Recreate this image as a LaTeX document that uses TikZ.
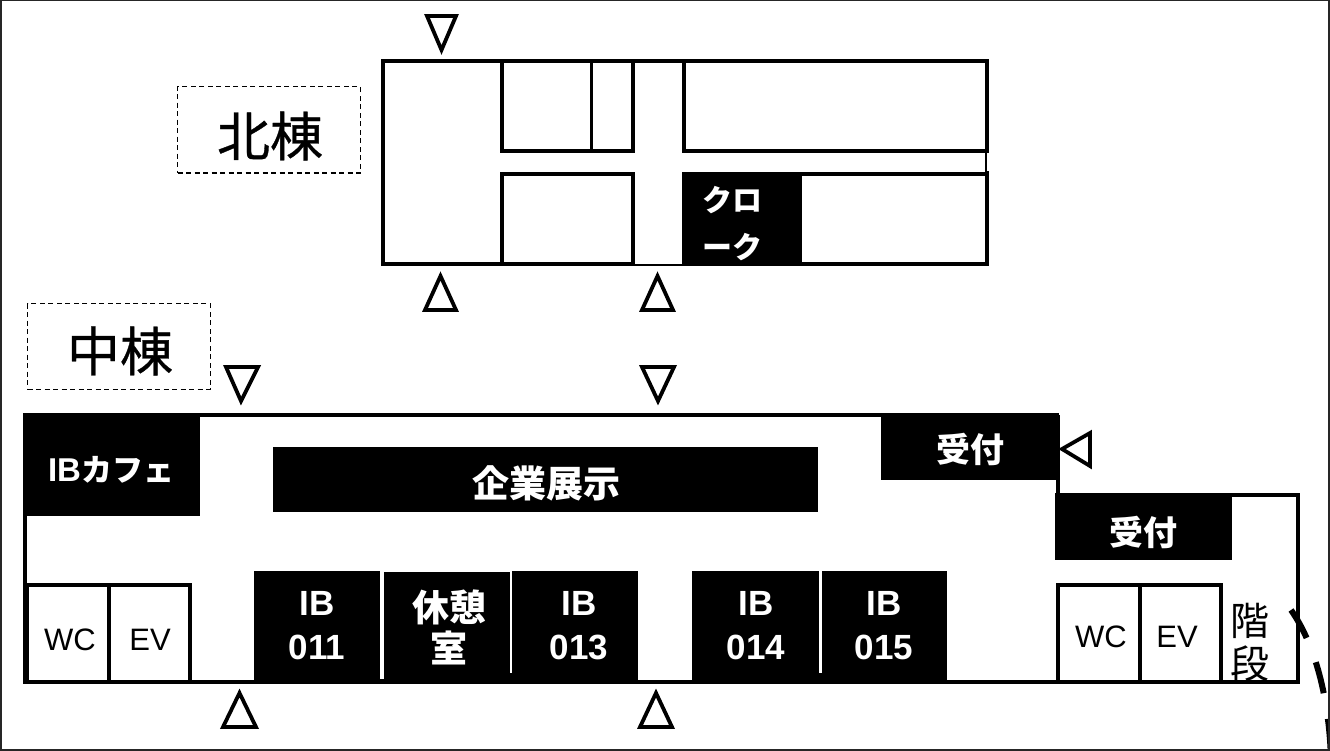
\documentclass[tikz,border=0pt]{standalone}
\usepackage{fontspec}
\setmainfont{Liberation Sans}
\newfontfamily\cjk{Noto Sans CJK JP}
\newfontfamily\cjkm[FakeBold=0.6]{Noto Sans CJK JP}
\usetikzlibrary{calc}
\tikzset{
  wall/.style={draw=black,line width=4.2pt,fill=white,line join=miter},
  thinwall/.style={draw=black,line width=3.6pt},
  blk/.style={fill=black,draw=none},
  tri/.style={draw=black,line width=3.8pt,fill=white,line join=miter},
  wlabel/.style={text=white,font=\fontsize{35}{44}\selectfont\bfseries,align=center,inner sep=0pt},
  jlabel/.style={text=white,font=\cjk\fontsize{37}{41}\selectfont\bfseries,align=center,inner sep=0pt},
  dark/.style={text=black,font=\fontsize{31}{34}\selectfont,inner sep=0pt},
  bldg/.style={text=black,font=\cjkm\fontsize{53}{56}\selectfont,inner sep=0pt},
  dashbox/.style={draw=black,line width=1.3pt,dash pattern=on 5pt off 3.5pt},
}
\begin{document}
\begin{tikzpicture}[x=1pt,y=-1pt]
\useasboundingbox (0,0) rectangle (1330,751);
\fill[white] (0,0) rectangle (1330,751);
% North building
\draw[wall] (383,61) rectangle (987,264);
\draw[thinwall] (502,61) rectangle (633,151);
\draw[thinwall,line width=3pt] (591,61) -- (591,151);
\draw[thinwall] (684,61) rectangle (987,151);
\draw[thinwall] (502,174) rectangle (633,264);
\draw[thinwall] (684,174) rectangle (987,264);
\draw[white,line width=4.4pt] (635,264) -- (682,264);
\draw[black,line width=2pt] (633,265) -- (684,265);
\draw[white,line width=4.4pt] (987,153.5) -- (987,171.5);
\draw[black,line width=2pt] (986,153) -- (986,172);
\fill[blk] (683,172) rectangle (802,266);
\node[jlabel,anchor=north west,align=left,font=\cjk\fontsize{30}{47}\selectfont\bfseries] (clk) at (702,186) {クロ\\ーク};
% North triangles
\draw[tri] (427,16) -- (456,16) -- (441.5,50) -- cycle;
\draw[tri] (425,310) -- (456,310) -- (440.5,276) -- cycle;
\draw[tri] (642,310) -- (673,310) -- (657.5,276) -- cycle;
% Building labels
\node[dashbox,minimum width=182.5pt,minimum height=86.5pt,anchor=north west] (northbox) at (177,86) {};
\node[bldg] (northlab) at (270,136) {北棟};
\node[dashbox,minimum width=182.5pt,minimum height=85.5pt,anchor=north west] (midbox) at (27,303) {};
\node[bldg] (midlab) at (120,351) {中棟};
% Stairs label sits under the wall line
\node[inner sep=0pt,align=center,font=\cjk\fontsize{39}{43}\selectfont] (stairs) at (1250,642) {階\\段};
% Middle building walls
\draw[black,line width=3.8pt,line join=miter] (1058,415) -- (25,415) -- (25,682) -- (1298,682) -- (1298,495) -- (1058,495) -- (1058,415);
% Black rooms
\fill[blk] (23,413) rectangle (200,516);
\fill[blk] (273,447) rectangle (818,512);
\fill[blk] (881,413) rectangle (1059,480);
\fill[blk] (1055,493) rectangle (1232,560);
\fill[blk] (254,571) rectangle (380,684);
\fill[blk] (380,679) rectangle (384,684);
\fill[blk] (384,572) rectangle (510,684);
\fill[blk] (510,673) rectangle (512,684);
\fill[blk] (512,571) rectangle (638,684);
\fill[blk] (692,571) rectangle (819,684);
\fill[blk] (819,673) rectangle (822,684);
\fill[blk] (822,571) rectangle (947,684);
% Service rooms
\draw[thinwall] (27,585) rectangle (190,682);
\draw[thinwall] (109,585) -- (109,682);
\draw[thinwall] (1058,585) rectangle (1221,682);
\draw[thinwall] (1140,585) -- (1140,682);
% Labels
\node[wlabel,anchor=center,font=\fontsize{33}{37}\selectfont\bfseries] (cafe) at (111,470) {IB{\cjk\fontsize{31}{37}\selectfont カフェ}};
\node[jlabel] (expo) at (546,483) {企業展示};
\node[jlabel,font=\cjk\fontsize{34}{37}\selectfont\bfseries] (rc1) at (970,449) {受付};
\node[jlabel,font=\cjk\fontsize{34}{37}\selectfont\bfseries] (rc2) at (1143,532) {受付};
\node[wlabel] (r11) at (317,626) {IB\\011};
\node[jlabel] (rest) at (449,627) {休憩\\室};
\node[wlabel] (r13) at (579,626) {IB\\013};
\node[wlabel] (r14) at (756,626) {IB\\014};
\node[wlabel] (r15) at (884,626) {IB\\015};
\node[dark] (wc1) at (70,640) {WC};
\node[dark] (ev1) at (150,640) {EV};
\node[dark] (wc2) at (1101,637) {WC};
\node[dark] (ev2) at (1177,637) {EV};
% Middle triangles
\draw[tri] (226,367) -- (258,367) -- (241,401) -- cycle;
\draw[tri] (642,367) -- (674,367) -- (658,401) -- cycle;
\draw[tri] (223,727) -- (256,727) -- (239.5,693) -- cycle;
\draw[tri] (640,727) -- (672,727) -- (656,693) -- cycle;
\draw[tri] (1062,449) -- (1090,433) -- (1090,466) -- cycle;
% Stair swing
\begin{scope}
\clip (0,0) rectangle (1330,751);
\draw[black,line width=6pt,dash pattern=on 32pt off 26pt] (1291,610) .. controls (1312,640) and (1329,690) .. (1331,760);
\end{scope}
% Border
\draw[black!85,line width=2pt] (1,0.5) rectangle (1329,750);
\end{tikzpicture}
\end{document}
